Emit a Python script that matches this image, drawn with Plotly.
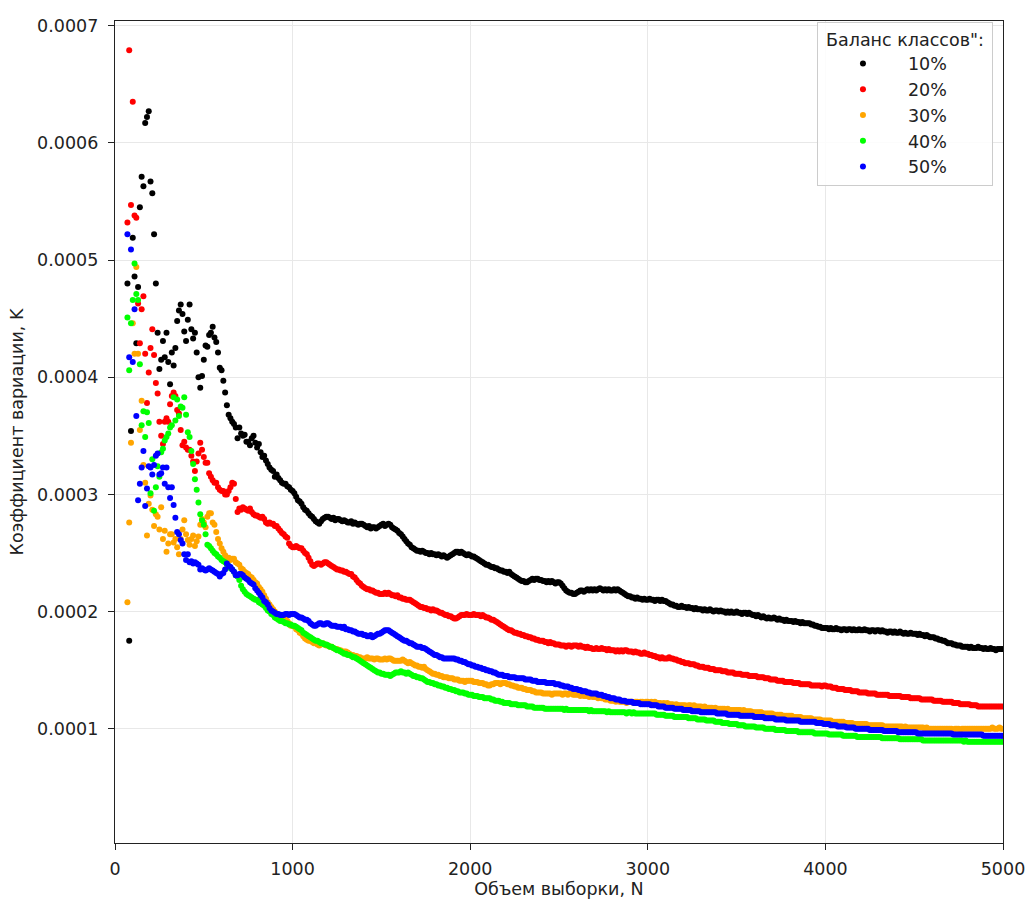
import plotly.graph_objects as go

# Sample sizes N: 70, 80, ..., 5000
sample_sizes = list(range(70, 5001, 10))

# Coefficient of variation K for each class balance, in units of 1e-6
# rows: N=70..90, then one row per hundred (N=100..190, 200..290, ...), then N=5000
k_10 = [
    480, 175, 354,
    519, 486, 429, 477, 545, 571, 563, 617, 622, 627,
    567, 557, 522, 480, 438, 407, 415, 431, 417, 438,
    413, 394, 421, 410, 425, 448, 457, 462, 454, 439,
    431, 449, 462, 441, 433, 438, 421, 400, 391, 401,
    415, 427, 426, 436, 438, 443, 434, 430, 421, 408,
    406, 397, 387, 376, 368, 365, 362, 360, 357, 348,
    357, 352, 350, 351, 345, 345, 342, 348, 350, 344,
    340, 343, 336, 332, 333, 329, 326, 323, 321, 320,
    315, 317, 314, 312, 310, 309, 309, 307, 306, 304,
    303, 301, 298, 295, 294, 292, 289, 287, 286, 284,
    282, 281, 279, 277, 276, 275, 277, 279, 280, 281,
    281, 280, 279, 280, 278, 279, 279, 278, 277, 278,
    277, 276, 276, 277, 275, 276, 275, 274, 275, 275,
    274, 273, 272, 273, 271, 272, 272, 271, 272, 273,
    274, 275, 273, 274, 275, 274, 272, 271, 270, 269,
    267, 266, 264, 262, 260, 258, 257, 255, 254, 253,
    252, 252, 251, 252, 251, 250, 250, 249, 250, 249,
    249, 248, 249, 248, 247, 248, 247, 246, 247, 248,
    249, 250, 251, 251, 250, 251, 250, 249, 248, 249,
    248, 247, 247, 246, 245, 244, 243, 242, 241, 240,
    240, 239, 238, 238, 237, 237, 236, 235, 235, 234,
    234, 233, 234, 232, 231, 230, 229, 228, 227, 226,
    226, 225, 225, 226, 227, 228, 227, 228, 228, 227,
    227, 226, 226, 225, 226, 225, 226, 225, 224, 225,
    225, 224, 222, 220, 218, 217, 216, 216, 215, 215,
    216, 217, 218, 218, 217, 218, 219, 218, 219, 218,
    219, 218, 219, 220, 219, 218, 219, 218, 219, 218,
    218, 219, 218, 219, 218, 217, 216, 215, 214, 213,
    213, 212, 212, 211, 212, 211, 211, 210, 211, 210,
    210, 211, 210, 210, 209, 210, 210, 209, 210, 209,
    209, 208, 207, 206, 206, 205, 205, 204, 204, 205,
    204, 204, 203, 204, 203, 203, 202, 203, 202, 202,
    202, 201, 202, 201, 201, 202, 201, 200, 201, 201,
    200, 201, 200, 200, 199, 200, 199, 200, 199, 199,
    200, 199, 199, 198, 199, 199, 198, 199, 198, 197,
    197, 196, 197, 196, 195, 196, 195, 194, 195, 194,
    194, 195, 194, 193, 194, 193, 193, 192, 193, 192,
    192, 192, 191, 192, 191, 191, 190, 191, 190, 190,
    190, 190, 189, 189, 188, 188, 187, 187, 186, 186,
    186, 186, 185, 186, 185, 185, 186, 185, 185, 184,
    185, 185, 184, 185, 185, 184, 185, 184, 184, 185,
    184, 184, 185, 184, 184, 183, 184, 184, 183, 184,
    184, 183, 184, 183, 183, 182, 183, 183, 182, 183,
    182, 182, 183, 182, 181, 182, 181, 181, 182, 181,
    181, 181, 180, 181, 180, 180, 179, 180, 179, 178,
    178, 178, 177, 177, 176, 176, 175, 175, 174, 173,
    173, 173, 172, 172, 171, 171, 171, 170, 170, 170,
    170, 169, 170, 169, 169, 169, 170, 169, 169, 168,
    169, 168, 168, 169, 168, 168, 167, 168, 168, 168,
    168,
]

k_20 = [
    532, 679, 547,
    635, 538, 536, 463, 429, 458, 469, 420, 378, 404,
    425, 441, 419, 395, 386, 362, 350, 343, 362, 365,
    362, 377, 384, 387, 384, 372, 369, 355, 342, 345,
    340, 338, 338, 333, 328, 320, 328, 335, 344, 338,
    332, 327, 327, 318, 315, 312, 310, 310, 306, 304,
    303, 303, 300, 300, 303, 306, 310, 309, 296, 285,
    288, 287, 289, 288, 287, 286, 288, 285, 283, 282,
    282, 281, 280, 281, 279, 276, 275, 276, 275, 275,
    273, 273, 271, 269, 267, 266, 264, 263, 258, 256,
    255, 255, 256, 255, 254, 254, 252, 250, 249, 246,
    243, 240, 239, 240, 241, 241, 240, 241, 242, 242,
    241, 240, 239, 238, 237, 236, 236, 235, 235, 234,
    234, 233, 232, 232, 230, 229, 227, 225, 224, 222,
    221, 220, 219, 219, 218, 218, 217, 216, 216, 215,
    215, 215, 216, 215, 216, 215, 214, 214, 213, 214,
    212, 212, 211, 211, 210, 210, 210, 209, 208, 207,
    206, 205, 204, 204, 203, 203, 202, 202, 201, 202,
    201, 201, 200, 199, 199, 198, 197, 197, 196, 196,
    195, 194, 194, 195, 196, 197, 197, 197, 198, 197,
    197, 197, 198, 197, 197, 197, 196, 197, 196, 195,
    195, 194, 193, 193, 192, 191, 190, 189, 188, 187,
    186, 185, 184, 184, 183, 182, 182, 181, 181, 180,
    180, 179, 179, 178, 178, 177, 177, 176, 176, 175,
    175, 175, 174, 174, 173, 174, 173, 173, 172, 172,
    172, 171, 171, 171, 170, 171, 171, 170, 171, 171,
    171, 170, 171, 170, 170, 169, 170, 169, 169, 168,
    168, 169, 168, 168, 169, 168, 168, 167, 168, 167,
    167, 167, 166, 167, 166, 167, 166, 167, 167, 166,
    166, 166, 165, 166, 165, 165, 164, 164, 165, 164,
    164, 163, 163, 162, 162, 161, 161, 160, 161, 160,
    160, 160, 161, 160, 160, 159, 159, 158, 158, 157,
    157, 156, 156, 156, 155, 155, 155, 154, 154, 153,
    153, 153, 152, 152, 152, 151, 151, 151, 150, 150,
    150, 150, 149, 149, 149, 148, 148, 148, 148, 147,
    147, 147, 147, 146, 146, 146, 146, 145, 145, 145,
    145, 145, 144, 144, 144, 144, 143, 143, 143, 142,
    142, 142, 142, 141, 141, 141, 141, 140, 140, 140,
    140, 140, 139, 139, 139, 139, 138, 138, 138, 138,
    138, 138, 137, 137, 137, 137, 137, 137, 136, 137,
    137, 136, 136, 136, 135, 135, 135, 134, 134, 134,
    134, 133, 133, 133, 133, 132, 132, 132, 132, 131,
    131, 131, 131, 131, 130, 130, 130, 130, 130, 129,
    129, 129, 129, 129, 129, 129, 128, 128, 128, 128,
    128, 128, 128, 127, 127, 127, 127, 127, 126, 126,
    126, 126, 126, 126, 125, 125, 125, 125, 125, 125,
    125, 124, 124, 124, 124, 124, 123, 123, 123, 123,
    123, 123, 122, 122, 122, 122, 121, 121, 121, 121,
    121, 121, 120, 120, 120, 120, 119, 119, 119, 119,
    119, 119, 119, 119, 119, 119, 119, 119, 119, 119,
    119,
]

k_30 = [
    208, 276, 344,
    446, 420, 494, 420, 355, 380, 325, 310, 265, 292,
    299, 287, 273, 283, 281, 270, 289, 262, 269, 251,
    258, 266, 266, 259, 262, 255, 249, 262, 270, 278,
    266, 261, 257, 262, 265, 256, 260, 264, 274, 279,
    276, 272, 281, 284, 284, 276, 274, 268, 262, 258,
    254, 251, 248, 245, 246, 244, 245, 245, 242, 241,
    240, 237, 236, 234, 233, 232, 230, 229, 227, 225,
    224, 221, 219, 217, 214, 211, 208, 206, 204, 202,
    200, 198, 197, 196, 195, 194, 194, 192, 190, 188,
    188, 187, 185, 184, 182, 181, 179, 177, 176, 175,
    175, 174, 173, 174, 172, 171, 172, 173, 172, 171,
    171, 170, 170, 169, 168, 168, 167, 167, 166, 166,
    166, 165, 164, 163, 163, 162, 162, 161, 161, 160,
    160, 160, 161, 160, 160, 160, 159, 160, 160, 159,
    159, 159, 160, 159, 160, 160, 159, 158, 158, 158,
    158, 158, 159, 158, 157, 156, 157, 156, 155, 154,
    154, 153, 153, 152, 153, 151, 150, 149, 148, 147,
    147, 146, 146, 145, 145, 144, 144, 144, 143, 143,
    143, 142, 142, 142, 141, 141, 141, 140, 141, 141,
    141, 141, 140, 140, 140, 139, 139, 139, 138, 138,
    137, 137, 138, 138, 139, 139, 139, 138, 139, 139,
    139, 138, 138, 137, 137, 136, 136, 135, 135, 135,
    134, 134, 133, 133, 133, 132, 132, 131, 131, 131,
    131, 130, 130, 130, 130, 130, 129, 130, 130, 130,
    130, 130, 129, 130, 130, 129, 130, 130, 129, 129,
    129, 129, 128, 129, 128, 128, 128, 127, 128, 127,
    127, 127, 126, 127, 126, 126, 125, 125, 125, 124,
    124, 124, 123, 124, 123, 123, 123, 123, 122, 123,
    123, 123, 122, 123, 123, 122, 123, 123, 122, 123,
    123, 122, 123, 122, 123, 122, 122, 122, 121, 122,
    121, 122, 121, 121, 121, 120, 121, 120, 120, 120,
    120, 120, 119, 120, 120, 119, 120, 119, 119, 119,
    119, 118, 119, 118, 118, 118, 118, 117, 118, 117,
    117, 117, 117, 117, 116, 117, 116, 116, 116, 116,
    116, 116, 116, 115, 116, 115, 115, 115, 115, 114,
    114, 114, 114, 114, 114, 113, 113, 113, 113, 113,
    113, 112, 112, 112, 112, 112, 111, 111, 111, 111,
    111, 111, 110, 110, 110, 110, 110, 109, 109, 109,
    109, 109, 109, 108, 108, 108, 108, 108, 107, 107,
    107, 107, 107, 107, 106, 106, 106, 106, 106, 106,
    106, 105, 105, 105, 105, 105, 104, 104, 104, 104,
    104, 104, 104, 104, 103, 103, 103, 103, 103, 103,
    103, 103, 103, 102, 102, 102, 102, 102, 102, 102,
    102, 102, 102, 102, 101, 102, 101, 101, 101, 101,
    101, 101, 101, 101, 101, 101, 100, 101, 100, 100,
    100, 100, 100, 100, 100, 100, 100, 100, 100, 100,
    100, 100, 99, 100, 100, 100, 99, 100, 100, 100,
    100, 100, 100, 100, 100, 100, 100, 100, 100, 100,
    100, 100, 100, 100, 101, 100, 100, 100, 101, 100,
    100,
]

k_40 = [
    451, 406, 446,
    466, 497, 471, 466, 411, 359, 371, 349, 370, 361,
    301, 330, 286, 306, 324, 315, 336, 339, 346, 349,
    352, 357, 359, 383, 363, 381, 367, 375, 374, 383,
    368, 353, 349, 337, 326, 313, 304, 293, 283, 278,
    274, 266, 257, 256, 254, 252, 250, 249, 247, 246,
    244, 243, 242, 240, 239, 237, 236, 234, 231, 230,
    227, 222, 219, 217, 215, 214, 213, 212, 211, 210,
    210, 208, 207, 206, 205, 203, 201, 200, 198, 197,
    195, 194, 193, 192, 192, 191, 190, 190, 189, 189,
    188, 188, 187, 186, 185, 184, 182, 181, 180, 179,
    178, 177, 176, 175, 175, 174, 173, 173, 172, 172,
    171, 170, 170, 169, 168, 167, 167, 166, 165, 164,
    164, 163, 163, 162, 161, 161, 160, 159, 158, 157,
    156, 155, 154, 153, 152, 151, 150, 149, 148, 148,
    147, 147, 146, 146, 146, 145, 146, 147, 148, 148,
    148, 149, 148, 148, 147, 148, 147, 146, 145, 145,
    144, 144, 143, 143, 142, 141, 140, 140, 139, 139,
    138, 138, 137, 137, 136, 136, 135, 135, 134, 134,
    133, 133, 132, 132, 131, 131, 131, 130, 130, 129,
    129, 129, 128, 128, 128, 127, 127, 127, 126, 126,
    126, 126, 125, 125, 124, 124, 124, 123, 123, 122,
    122, 122, 122, 121, 121, 121, 121, 120, 120, 120,
    120, 120, 119, 119, 119, 119, 118, 118, 118, 118,
    118, 118, 117, 117, 117, 117, 117, 117, 117, 117,
    117, 117, 117, 116, 117, 116, 116, 116, 116, 116,
    116, 116, 116, 116, 116, 116, 116, 115, 116, 115,
    115, 115, 115, 115, 115, 115, 115, 114, 115, 114,
    114, 114, 114, 114, 114, 114, 114, 114, 113, 114,
    114, 113, 114, 113, 113, 113, 113, 113, 113, 113,
    113, 113, 113, 113, 113, 112, 112, 112, 112, 112,
    111, 111, 111, 111, 111, 110, 110, 110, 110, 110,
    110, 110, 110, 109, 109, 109, 109, 109, 108, 108,
    108, 108, 108, 107, 107, 107, 107, 107, 106, 106,
    106, 106, 105, 105, 105, 105, 104, 104, 104, 104,
    104, 103, 103, 103, 103, 102, 102, 102, 102, 102,
    102, 101, 101, 101, 101, 101, 100, 100, 100, 100,
    100, 100, 99, 99, 99, 99, 99, 99, 98, 98,
    98, 98, 98, 98, 98, 97, 97, 97, 97, 97,
    97, 97, 97, 97, 96, 96, 96, 96, 96, 96,
    96, 96, 95, 95, 95, 95, 95, 95, 95, 95,
    94, 94, 94, 94, 94, 94, 94, 94, 93, 93,
    93, 93, 93, 93, 93, 93, 93, 93, 93, 93,
    93, 93, 92, 92, 92, 92, 92, 92, 92, 92,
    92, 92, 91, 91, 91, 91, 91, 91, 91, 91,
    91, 91, 91, 91, 91, 90, 90, 90, 90, 90,
    90, 90, 90, 90, 90, 90, 90, 90, 90, 90,
    90, 90, 90, 90, 90, 90, 90, 90, 89, 90,
    89, 89, 89, 89, 89, 89, 89, 89, 89, 89,
    89, 89, 89, 89, 89, 89, 89, 89, 89, 89,
    89,
]

k_50 = [
    522, 417, 509,
    413, 458, 367, 295, 309, 323, 337, 290, 305, 324,
    323, 317, 325, 333, 335, 317, 318, 323, 309, 323,
    306, 297, 306, 291, 280, 268, 266, 261, 258, 249,
    244, 249, 242, 243, 241, 242, 241, 240, 236, 237,
    236, 235, 236, 237, 236, 235, 234, 233, 232, 230,
    232, 233, 236, 241, 239, 238, 236, 234, 231, 231,
    232, 232, 231, 229, 228, 227, 225, 224, 223, 220,
    218, 216, 214, 212, 209, 208, 206, 203, 201, 200,
    199, 198, 198, 197, 197, 197, 198, 198, 197, 198,
    198, 198, 197, 196, 195, 195, 194, 193, 193, 192,
    190, 189, 188, 188, 189, 190, 190, 189, 189, 190,
    190, 189, 188, 188, 188, 187, 187, 187, 186, 187,
    185, 185, 184, 184, 183, 183, 182, 181, 181, 181,
    180, 180, 179, 179, 180, 178, 179, 180, 181, 181,
    182, 183, 184, 184, 184, 183, 182, 181, 180, 179,
    178, 177, 176, 175, 175, 174, 173, 173, 172, 171,
    170, 170, 170, 169, 169, 168, 167, 166, 165, 164,
    163, 163, 162, 161, 161, 160, 160, 160, 160, 160,
    160, 160, 159, 159, 158, 158, 157, 157, 156, 155,
    155, 154, 154, 153, 153, 152, 152, 151, 151, 150,
    150, 149, 149, 148, 148, 147, 146, 146, 146, 145,
    145, 145, 144, 144, 144, 144, 143, 143, 143, 143,
    143, 142, 142, 142, 142, 141, 141, 141, 140, 140,
    140, 140, 140, 139, 139, 139, 139, 139, 138, 138,
    138, 137, 137, 136, 136, 136, 135, 135, 134, 134,
    134, 133, 133, 132, 132, 132, 131, 131, 130, 130,
    130, 130, 129, 129, 129, 128, 128, 127, 127, 126,
    126, 126, 125, 125, 125, 124, 124, 124, 123, 123,
    123, 123, 122, 122, 122, 122, 121, 121, 121, 121,
    121, 121, 120, 120, 120, 120, 119, 119, 119, 119,
    118, 118, 118, 118, 118, 117, 117, 117, 117, 117,
    116, 116, 116, 116, 116, 115, 115, 115, 115, 115,
    114, 114, 114, 114, 114, 114, 114, 114, 114, 113,
    113, 113, 113, 113, 113, 112, 112, 112, 112, 112,
    112, 112, 111, 111, 111, 111, 111, 111, 111, 111,
    110, 110, 110, 110, 110, 110, 109, 109, 109, 109,
    109, 109, 108, 108, 108, 108, 108, 108, 107, 107,
    107, 107, 107, 107, 107, 107, 106, 106, 106, 106,
    106, 106, 106, 106, 106, 105, 105, 105, 105, 104,
    104, 104, 104, 103, 103, 103, 103, 102, 102, 102,
    102, 102, 101, 101, 101, 101, 101, 100, 100, 100,
    100, 100, 100, 100, 100, 99, 99, 99, 99, 99,
    99, 99, 99, 98, 98, 98, 98, 98, 98, 98,
    98, 97, 97, 97, 97, 97, 97, 97, 97, 97,
    97, 97, 96, 96, 96, 96, 96, 96, 96, 96,
    96, 96, 96, 96, 96, 96, 96, 96, 96, 96,
    96, 96, 95, 95, 95, 95, 95, 95, 95, 95,
    95, 95, 95, 95, 95, 95, 95, 95, 95, 94,
    94, 94, 94, 94, 94, 94, 94, 94, 94, 94,
    94,
]

series_names = ["10%", "20%", "30%", "40%", "50%"]
series_colors = ["#000000", "#ff0000", "#ffa500", "#00ff00", "#0000ff"]
series_values = [k_10, k_20, k_30, k_40, k_50]

for name, vals in zip(series_names, series_values):
    assert len(vals) == len(sample_sizes), (name, len(vals), len(sample_sizes))

FONT = "DejaVu Sans, Verdana, sans-serif"
FS = 17.5
INK = "#222222"

fig = go.Figure()
for name, color, vals in zip(series_names, series_colors, series_values):
    fig.add_trace(go.Scatter(
        x=sample_sizes,
        y=[v * 1e-6 for v in vals],
        mode="markers",
        name=name,
        marker=dict(color=color, size=6, line=dict(width=0)),
    ))

axis_common = dict(
    automargin=False,
    showgrid=True,
    gridcolor="#e8e8e8",
    gridwidth=1,
    zeroline=False,
    showline=True,
    linecolor=INK,
    linewidth=1.3,
    mirror=True,
    ticks="outside",
    ticklen=6,
    tickwidth=1.3,
    tickcolor=INK,
    tickfont=dict(family=FONT, size=FS, color=INK),
)

fig.update_xaxes(
    range=[0, 5000],
    tickmode="array",
    tickvals=[0, 1000, 2000, 3000, 4000, 5000],
    ticktext=["0", "1000", "2000", "3000", "4000", "5000"],
    ticklabelstandoff=4,
    title=dict(text="Объем выборки, N", font=dict(family=FONT, size=FS, color=INK), standoff=8),
    **axis_common,
)
fig.update_yaxes(
    range=[0.0000025, 0.000704],
    tickmode="array",
    tickvals=[0.0001, 0.0002, 0.0003, 0.0004, 0.0005, 0.0006, 0.0007],
    ticktext=["0.0001", "0.0002", "0.0003", "0.0004", "0.0005", "0.0006", "0.0007"],
    ticklabelstandoff=6,
    title=dict(text="Коэффициент вариации, K", font=dict(family=FONT, size=FS, color=INK), standoff=8),
    **axis_common,
)

fig.update_layout(
    width=1027,
    height=899,
    margin=dict(l=115, r=24, t=21, b=56),
    paper_bgcolor="white",
    plot_bgcolor="white",
    showlegend=True,
    legend=dict(
        title=dict(text="\u00a0Баланс классов\":\u00a0", side="top center",
                   font=dict(family=FONT, size=FS, color=INK)),
        font=dict(family=FONT, size=FS, color=INK),
        x=0.9887, xanchor="right",
        y=0.999, yanchor="top",
        bgcolor="rgba(255,255,255,0.85)",
        bordercolor="#cccccc",
        borderwidth=1,
        itemwidth=80,
        tracegroupgap=0,
    ),
)

fig.write_html("out.html")
